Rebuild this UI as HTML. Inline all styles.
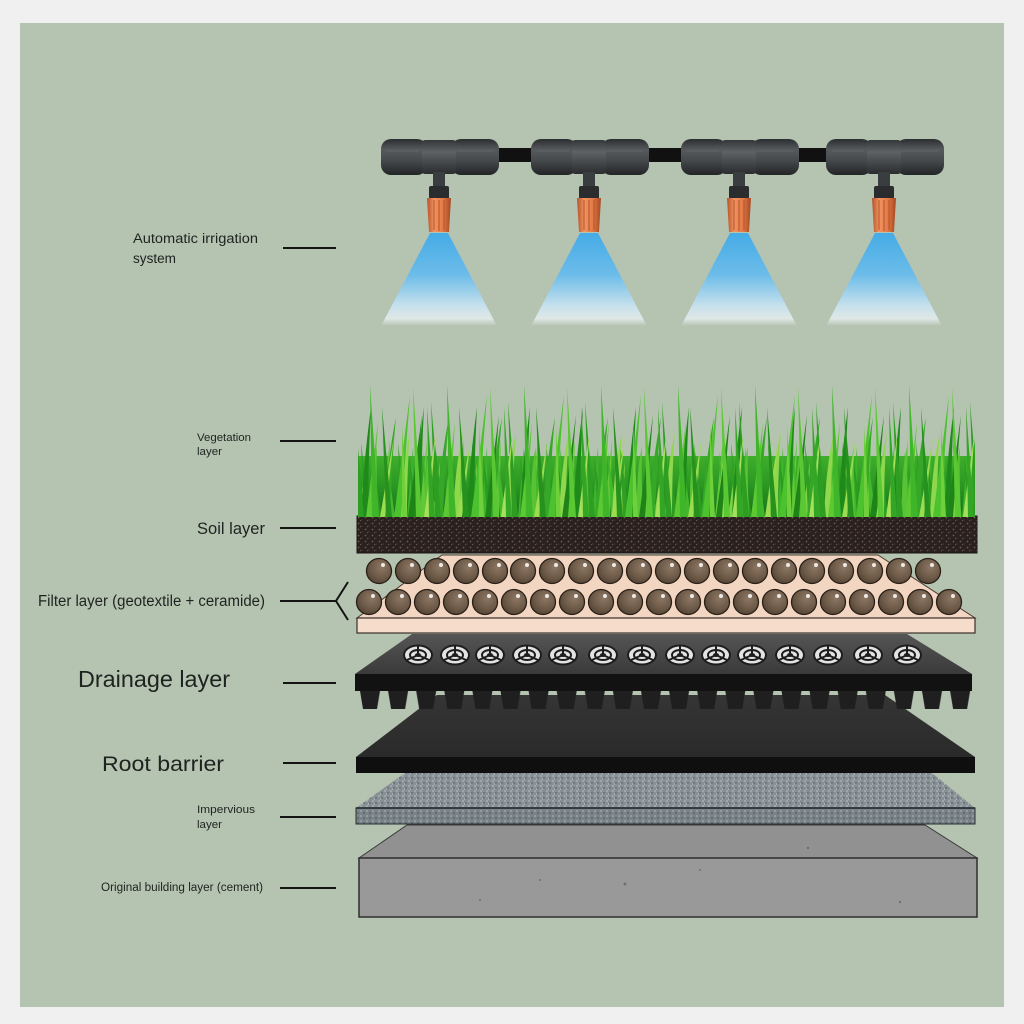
<!DOCTYPE html>
<html><head><meta charset="utf-8">
<style>html,body{margin:0;padding:0;background:#f0f0f0;}svg{display:block}</style>
</head>
<body>
<svg width="1024" height="1024" viewBox="0 0 1024 1024" xmlns="http://www.w3.org/2000/svg">
<defs>
  <linearGradient id="barrel" x1="0" y1="0" x2="0" y2="1">
    <stop offset="0" stop-color="#2b2e30"/>
    <stop offset="0.3" stop-color="#575a5d"/>
    <stop offset="0.6" stop-color="#46494c"/>
    <stop offset="1" stop-color="#222426"/>
  </linearGradient>
  <linearGradient id="barrel2" x1="0" y1="0" x2="0" y2="1">
    <stop offset="0" stop-color="#34373a"/>
    <stop offset="0.35" stop-color="#5f6265"/>
    <stop offset="1" stop-color="#2a2c2e"/>
  </linearGradient>
  <linearGradient id="orange" x1="0" y1="0" x2="1" y2="0">
    <stop offset="0" stop-color="#b4532a"/>
    <stop offset="0.3" stop-color="#f29360"/>
    <stop offset="0.65" stop-color="#e47b46"/>
    <stop offset="1" stop-color="#a54822"/>
  </linearGradient>
  <linearGradient id="sprayg" x1="0" y1="0" x2="0" y2="1">
    <stop offset="0" stop-color="#45abe6"/>
    <stop offset="0.45" stop-color="#6cbce9"/>
    <stop offset="0.78" stop-color="#c6e0ec"/>
    <stop offset="0.92" stop-color="#dfe8e6"/>
    <stop offset="1" stop-color="#b5c3b1"/>
  </linearGradient>
  <radialGradient id="ballg" cx="0.6" cy="0.35" r="0.75">
    <stop offset="0" stop-color="#8c7763"/>
    <stop offset="0.6" stop-color="#6b5846"/>
    <stop offset="1" stop-color="#4e3f30"/>
  </radialGradient>
  <linearGradient id="grassbase" x1="0" y1="0" x2="0" y2="1">
    <stop offset="0" stop-color="#3fae2c"/>
    <stop offset="0.5" stop-color="#2a9622"/>
    <stop offset="1" stop-color="#16701a"/>
  </linearGradient>
  <linearGradient id="draintop" x1="0" y1="0" x2="0" y2="1">
    <stop offset="0" stop-color="#555555"/>
    <stop offset="1" stop-color="#3a3a3a"/>
  </linearGradient>
  <linearGradient id="roottop" x1="0" y1="0" x2="0" y2="1">
    <stop offset="0" stop-color="#353535"/>
    <stop offset="1" stop-color="#2a2a2a"/>
  </linearGradient>

  <pattern id="soilp" width="7" height="6" patternUnits="userSpaceOnUse">
    <rect width="7" height="6" fill="#2a201d"/>
    <circle cx="1.5" cy="1.5" r="0.9" fill="#6e5a52"/>
    <circle cx="5" cy="4" r="0.8" fill="#4b3b35"/>
    <circle cx="3.5" cy="4.8" r="0.5" fill="#8a766c"/>
  </pattern>
  <pattern id="impp" width="6" height="5" patternUnits="userSpaceOnUse">
    <rect width="6" height="5" fill="#879094"/>
    <circle cx="1" cy="1" r="0.9" fill="#b0b8bb"/>
    <circle cx="4" cy="3" r="0.9" fill="#5e676d"/>
    <circle cx="2.5" cy="4" r="0.6" fill="#c4cacc"/>
  </pattern>
  <pattern id="impp2" width="6" height="5" patternUnits="userSpaceOnUse">
    <rect width="6" height="5" fill="#7a8488"/>
    <circle cx="1" cy="1" r="0.9" fill="#a2abae"/>
    <circle cx="4" cy="3" r="0.9" fill="#535b61"/>
  </pattern>
  <pattern id="teeth" x="360" y="691" width="28.1" height="18" patternUnits="userSpaceOnUse">
    <polygon points="0,0 20,0 17,18 3,18" fill="#1f1f1f"/>
  </pattern>

  <pattern id="grassA" x="358" y="377" width="77" height="140" patternUnits="userSpaceOnUse">
    <path d="M0 140 L-4 25 L6 140Z" fill="#2e9e22"/>
    <path d="M77 140 L73 25 L83 140Z" fill="#2e9e22"/>
    <path d="M8 140 L20 45 L14 140Z" fill="#5cc832"/>
    <path d="M14 140 L12 8 L21 140Z" fill="#3fb52a"/>
    <path d="M22 140 L36 60 L27 140Z" fill="#9bdc50"/>
    <path d="M28 140 L24 30 L34 140Z" fill="#27911e"/>
    <path d="M36 140 L52 18 L43 140Z" fill="#4cc22e"/>
    <path d="M44 140 L44 48 L49 140Z" fill="#6fd03c"/>
    <path d="M50 140 L64 38 L56 140Z" fill="#1f8418"/>
    <path d="M58 140 L55 10 L64 140Z" fill="#5ac833"/>
    <path d="M66 140 L78 52 L71 140Z" fill="#a4e05a"/>
    <path d="M71 140 L69 30 L77 140Z" fill="#34a626"/>
  </pattern>
  <pattern id="grassB" x="370" y="377" width="37" height="140" patternUnits="userSpaceOnUse">
    <path d="M0 140 L6 70 L7 140Z" fill="#3db52b"/>
    <path d="M6 140 L2 80 L12 140Z" fill="#2a9a20"/>
    <path d="M12 140 L20 62 L18 140Z" fill="#62c936"/>
    <path d="M19 140 L16 75 L25 140Z" fill="#44b82d"/>
    <path d="M25 140 L33 85 L31 140Z" fill="#7fd446"/>
    <path d="M31 140 L28 66 L37 140Z" fill="#2f9f24"/>
  </pattern>
  <pattern id="grassC" x="380" y="377" width="53" height="140" patternUnits="userSpaceOnUse">
    <path d="M3 140 Q8 80 16 40 Q12 80 10 140Z" fill="#36a828"/>
    <path d="M20 140 Q22 90 30 55 Q27 90 27 140Z" fill="#8fd84c"/>
    <path d="M34 140 Q36 90 44 30 Q41 90 41 140Z" fill="#1e8a1a"/>
    <path d="M45 140 Q44 95 50 70 Q49 95 51 140Z" fill="#58c434"/>
  </pattern>
  <clipPath id="grassclip"><rect x="358" y="370" width="617" height="148"/></clipPath>

  <g id="conn">
    <rect x="-58" y="139" width="46" height="36" rx="10" fill="url(#barrel)"/>
    <rect x="12" y="139" width="48" height="36" rx="10" fill="url(#barrel)"/>
    <rect x="-17" y="140" width="34" height="34" rx="3" fill="url(#barrel2)"/>
    <path d="M-52 151 H-20 M18 151 H54" stroke="#6a6d70" stroke-width="1" opacity="0.6"/>
    <rect x="-6" y="172" width="12" height="17" fill="#3a3d40"/>
    <rect x="-10" y="186" width="20" height="13" rx="2" fill="#2a2c2e"/>
    <path d="M-12 198 L12 198 L10 232 L-10 232Z" fill="url(#orange)"/>
    <path d="M-5 200 V230 M0 200 V231 M5 200 V230" stroke="#b0552c" stroke-width="1"/>
  </g>
  <path id="spray" d="M-9 233 L9 233 L58 326 L-58 326Z" fill="url(#sprayg)"/>

  <g id="ball">
    <circle cx="0" cy="0" r="12.5" fill="url(#ballg)" stroke="#2a2018" stroke-width="1.3"/>
    <circle cx="4" cy="-6" r="2" fill="#ffffff" opacity="0.85"/>
  </g>
  <g id="dc">
    <ellipse cx="0" cy="0" rx="15" ry="10.5" fill="#1d1d1d"/>
    <ellipse cx="0" cy="0" rx="13" ry="8.5" fill="#e3e3e3"/>
    <ellipse cx="0" cy="0" rx="8" ry="5" fill="none" stroke="#1d1d1d" stroke-width="2"/>
    <path d="M0 0 L0 -9 M0 0 L-11 5 M0 0 L11 5" stroke="#1d1d1d" stroke-width="2"/>
    <ellipse cx="0" cy="0" rx="3" ry="2" fill="#1d1d1d"/>
  </g>
</defs>

<rect width="1024" height="1024" fill="#f0f0f0"/>
<rect x="20" y="23" width="984" height="984" fill="#b5c3b1"/>

<!-- irrigation -->
<rect x="495" y="148" width="335" height="14" fill="#111111"/>
<use href="#spray" x="439"/>
<use href="#spray" x="589"/>
<use href="#spray" x="739"/>
<use href="#spray" x="884"/>
<use href="#conn" x="439"/>
<use href="#conn" x="589"/>
<use href="#conn" x="739"/>
<use href="#conn" x="884"/>

<!-- cement -->
<polygon points="407,825 925,825 977,858 359,858" fill="#919191" stroke="#3a3a3a" stroke-width="1"/>
<rect x="359" y="858" width="618" height="59" fill="#999999" stroke="#2e2e2e" stroke-width="1.5"/>
<g fill="#555" opacity="0.6">
  <circle cx="625" cy="884" r="1.5"/><circle cx="808" cy="848" r="1.2"/><circle cx="480" cy="900" r="1"/>
  <circle cx="900" cy="902" r="1.2"/><circle cx="700" cy="870" r="1"/><circle cx="540" cy="880" r="1"/>
</g>

<!-- impervious -->
<polygon points="405,773 932,773 975,808 356,808" fill="url(#impp)"/>
<rect x="356" y="808" width="619" height="16" fill="url(#impp2)" stroke="#2a2f31" stroke-width="1"/>
<line x1="356" y1="808" x2="975" y2="808" stroke="#1f2426" stroke-width="1.5"/>

<!-- root barrier -->
<polygon points="437,695 885,695 975,757 356,757" fill="url(#roottop)"/>
<rect x="356" y="757" width="619" height="16" fill="#0f0f0f"/>

<!-- drainage -->
<polygon points="412,634 907,634 972,674 355,674" fill="url(#draintop)"/>
<rect x="355" y="674" width="617" height="17" fill="#121212"/>
<rect x="360" y="691" width="612" height="18" fill="url(#teeth)"/>
<g>
  <use href="#dc" x="418" y="655"/><use href="#dc" x="455" y="655"/><use href="#dc" x="490" y="655"/>
  <use href="#dc" x="527" y="655"/><use href="#dc" x="563" y="655"/><use href="#dc" x="603" y="655"/>
  <use href="#dc" x="642" y="655"/><use href="#dc" x="680" y="655"/><use href="#dc" x="716" y="655"/>
  <use href="#dc" x="752" y="655"/><use href="#dc" x="790" y="655"/><use href="#dc" x="828" y="655"/>
  <use href="#dc" x="868" y="655"/><use href="#dc" x="907" y="655"/>
</g>

<!-- filter layer -->
<polygon points="442,555 878,555 975,618 357,618" fill="#f3d6c2" stroke="#4a3a30" stroke-width="1"/>
<rect x="357" y="618" width="618" height="15" fill="#f6dccb" stroke="#3a2f28" stroke-width="1.2"/>
<g>
  <use href="#ball" x="379" y="571"/><use href="#ball" x="408" y="571"/><use href="#ball" x="437" y="571"/>
  <use href="#ball" x="466" y="571"/><use href="#ball" x="495" y="571"/><use href="#ball" x="523" y="571"/>
  <use href="#ball" x="552" y="571"/><use href="#ball" x="581" y="571"/><use href="#ball" x="610" y="571"/>
  <use href="#ball" x="639" y="571"/><use href="#ball" x="668" y="571"/><use href="#ball" x="697" y="571"/>
  <use href="#ball" x="726" y="571"/><use href="#ball" x="755" y="571"/><use href="#ball" x="784" y="571"/>
  <use href="#ball" x="812" y="571"/><use href="#ball" x="841" y="571"/><use href="#ball" x="870" y="571"/>
  <use href="#ball" x="899" y="571"/><use href="#ball" x="928" y="571"/>
  <use href="#ball" x="369" y="602"/><use href="#ball" x="398" y="602"/><use href="#ball" x="427" y="602"/>
  <use href="#ball" x="456" y="602"/><use href="#ball" x="485" y="602"/><use href="#ball" x="514" y="602"/>
  <use href="#ball" x="543" y="602"/><use href="#ball" x="572" y="602"/><use href="#ball" x="601" y="602"/>
  <use href="#ball" x="630" y="602"/><use href="#ball" x="659" y="602"/><use href="#ball" x="688" y="602"/>
  <use href="#ball" x="717" y="602"/><use href="#ball" x="746" y="602"/><use href="#ball" x="775" y="602"/>
  <use href="#ball" x="804" y="602"/><use href="#ball" x="833" y="602"/><use href="#ball" x="862" y="602"/>
  <use href="#ball" x="891" y="602"/><use href="#ball" x="920" y="602"/><use href="#ball" x="949" y="602"/>
</g>

<!-- soil -->
<rect x="357" y="516" width="620" height="37" fill="url(#soilp)"/>
<rect x="357" y="516" width="620" height="37" fill="none" stroke="#1a1412" stroke-width="1"/>

<!-- grass -->
<g clip-path="url(#grassclip)">
  <rect x="358" y="456" width="617" height="61" fill="url(#grassbase)"/>
  <rect x="358" y="377" width="617" height="140" fill="url(#grassB)"/>
  <rect x="358" y="377" width="617" height="140" fill="url(#grassC)"/>
  <rect x="358" y="377" width="617" height="140" fill="url(#grassA)"/>
</g>

<!-- leader lines -->
<g stroke="#141414" stroke-width="2" fill="none">
  <line x1="283" y1="248" x2="336" y2="248"/>
  <line x1="280" y1="441" x2="336" y2="441"/>
  <line x1="280" y1="528" x2="336" y2="528"/>
  <line x1="280" y1="601" x2="336" y2="601"/>
  <polyline points="348,582 336,601 348,620"/>
  <line x1="283" y1="683" x2="336" y2="683"/>
  <line x1="283" y1="763" x2="336" y2="763"/>
  <line x1="280" y1="817" x2="336" y2="817"/>
  <line x1="280" y1="888" x2="336" y2="888"/>
</g>

<!-- labels -->
<g font-family="'Liberation Sans', sans-serif" fill="#1e2320">
  <text x="133" y="243" font-size="13.5" textLength="125" lengthAdjust="spacingAndGlyphs">Automatic irrigation</text>
  <text x="133" y="263" font-size="13.5" textLength="43" lengthAdjust="spacingAndGlyphs">system</text>
  <text x="197" y="441" font-size="11" textLength="54" lengthAdjust="spacingAndGlyphs">Vegetation</text>
  <text x="197" y="455" font-size="11" textLength="25" lengthAdjust="spacingAndGlyphs">layer</text>
  <text x="197" y="534" font-size="16.5" textLength="68" lengthAdjust="spacingAndGlyphs">Soil layer</text>
  <text x="38" y="606" font-size="15.5" textLength="227" lengthAdjust="spacingAndGlyphs">Filter layer (geotextile + ceramide)</text>
  <text x="78" y="687" font-size="23" textLength="152" lengthAdjust="spacingAndGlyphs">Drainage layer</text>
  <text x="102" y="771" font-size="21.5" textLength="122" lengthAdjust="spacingAndGlyphs">Root barrier</text>
  <text x="197" y="813" font-size="11" textLength="58" lengthAdjust="spacingAndGlyphs">Impervious</text>
  <text x="197" y="828" font-size="11" textLength="25" lengthAdjust="spacingAndGlyphs">layer</text>
  <text x="101" y="891" font-size="11.5" textLength="162" lengthAdjust="spacingAndGlyphs">Original building layer (cement)</text>
</g>
</svg>
</body></html>
